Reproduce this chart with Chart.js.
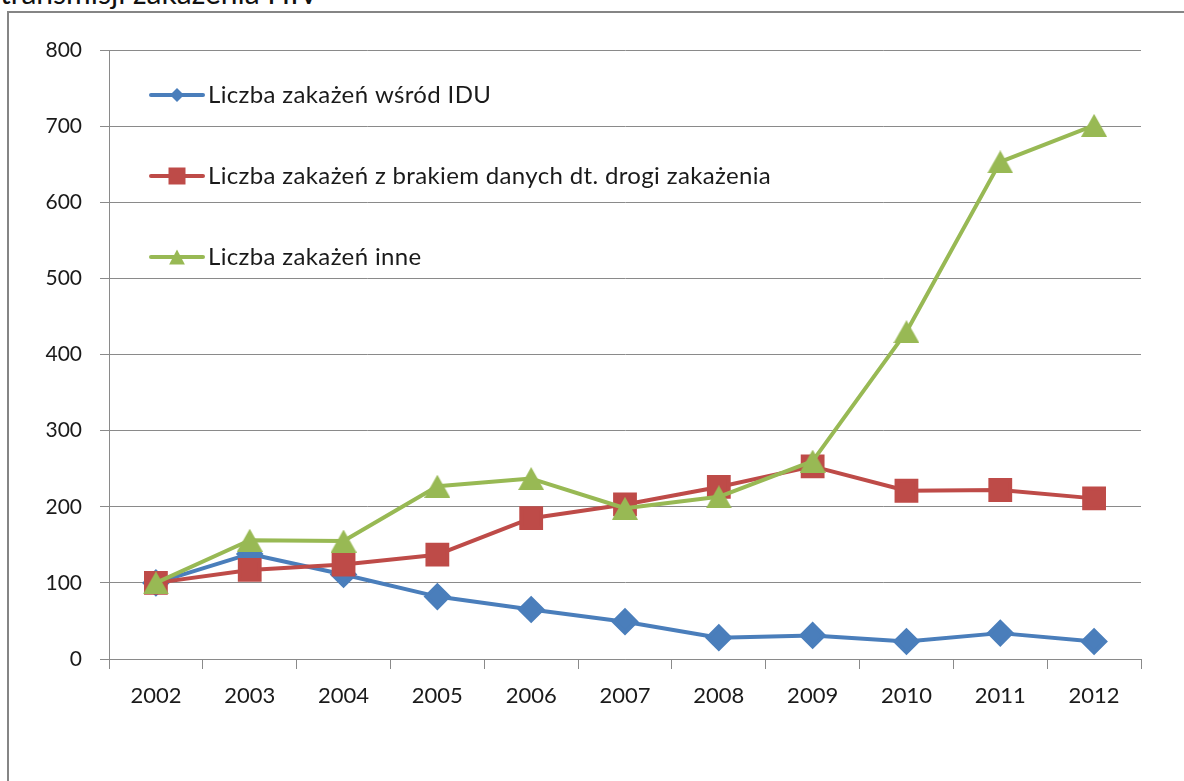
<!DOCTYPE html>
<html lang="pl">
<head>
<meta charset="utf-8">
<script src="https://cdn.jsdelivr.net/npm/chart.js@4/dist/chart.umd.min.js"></script>
<style>
  html, body { margin: 0; padding: 0; background: #fff; overflow: hidden; }
  body { width: 1184px; height: 781px; position: relative; font-family: Lato, "Open Sans", sans-serif; }
  #caption { position: absolute; left: 0; top: -23px; font-size: 30px; line-height: 30px; color: #111; white-space: nowrap; }
  #frame { position: absolute; left: 7px; top: 11px; width: 1300px; height: 900px;
           border-left: 2px solid #858585; border-top: 2px solid #858585; }
  #wrap { position: absolute; left: 0; top: 0; width: 1184px; height: 781px; }
</style>
</head>
<body>
<div id="caption">transmisji zakażenia HIV</div>
<div id="frame"></div>
<div id="wrap"><canvas id="chart" width="1184" height="781"></canvas></div>
<script>
// Years on the horizontal axis
const years = ['2002', '2003', '2004', '2005', '2006', '2007', '2008', '2009', '2010', '2011', '2012'];

// Series (index, 2002 = 100)
const seriesIdu = [100, 138, 111, 82, 65, 49, 28, 31, 23, 34, 23];
const seriesMissing = [100, 117, 124, 137, 185, 203, 226, 253, 221, 222, 211];
const seriesOther = [100, 156, 155, 227, 237, 198, 213, 260, 430, 653, 701];

const seriesLabels = [
  'Liczba zakażeń wśród IDU',
  'Liczba zakażeń z brakiem danych dt. drogi zakażenia',
  'Liczba zakażeń inne'
];

// Y axis range and step
const yMin = 0, yMax = 800, yStep = 100;

const BLUE = '#4A7EBB', RED = '#BE4B48', GREEN = '#98B954', GRID = '#8a8a8a';
const FONT = 'Lato, "Open Sans", sans-serif';

// Triangle marker whose bounding box is centred on the point
function triangleImage(w, h, color) {
  const c = document.createElement('canvas');
  c.width = w; c.height = h;
  const g = c.getContext('2d');
  g.fillStyle = color;
  g.beginPath();
  g.moveTo(w / 2, 0); g.lineTo(w, h); g.lineTo(0, h);
  g.closePath();
  g.fill();
  return c;
}

// Draws a marker shape centred at (x, y)
function drawMarker(ctx, style, x, y, r, color) {
  ctx.save();
  ctx.fillStyle = color;
  ctx.beginPath();
  if (style === 'rectRot') {
    ctx.moveTo(x, y - r); ctx.lineTo(x + r, y); ctx.lineTo(x, y + r); ctx.lineTo(x - r, y);
  } else if (style === 'rect') {
    ctx.rect(x - r, y - r, 2 * r, 2 * r);
  } else {
    ctx.moveTo(x, y - r); ctx.lineTo(x + r * 1.05, y + r); ctx.lineTo(x - r * 1.05, y + r);
  }
  ctx.closePath();
  ctx.fill();
  ctx.restore();
}

const legendShapes = ['rectRot', 'rect', 'triangle'];

// Legend stacked inside the plot area, one row per series
const insideLegend = {
  id: 'insideLegend',
  afterDraw(chart) {
    const ctx = chart.ctx;
    const rows = [95, 176, 257];
    const markerR = [7, 8.5, 7.5];
    chart.data.datasets.forEach((ds, i) => {
      const y = rows[i];
      ctx.save();
      ctx.strokeStyle = ds.borderColor;
      ctx.lineWidth = 4;
      ctx.lineCap = 'round';
      ctx.beginPath();
      ctx.moveTo(151, y); ctx.lineTo(203, y);
      ctx.stroke();
      drawMarker(ctx, legendShapes[i], 177, y, markerR[i], ds.borderColor);
      ctx.fillStyle = '#1a1a1a';
      ctx.font = '24px ' + FONT;
      ctx.letterSpacing = '0.35px';
      ctx.textBaseline = 'middle';
      ctx.textAlign = 'left';
      ctx.fillText(ds.label, 208, y);
      ctx.restore();
    });
  }
};

new Chart(document.getElementById('chart'), {
  type: 'line',
  data: {
    labels: years,
    datasets: [
      { label: seriesLabels[0], data: seriesIdu, borderColor: BLUE, backgroundColor: BLUE,
        pointStyle: 'rectRot', pointRadius: 11, borderWidth: 4, order: 3 },
      { label: seriesLabels[1], data: seriesMissing, borderColor: RED, backgroundColor: RED,
        pointStyle: 'rect', pointRadius: 14, borderWidth: 4, order: 2 },
      { label: seriesLabels[2], data: seriesOther, borderColor: GREEN, backgroundColor: GREEN,
        pointStyle: triangleImage(26, 23, GREEN), pointRadius: 12, borderWidth: 4, order: 1 }
    ]
  },
  options: {
    responsive: false,
    animation: false,
    events: [],
    layout: { padding: { left: 0, top: 50, right: 43, bottom: 62 } },
    elements: {
      line: { tension: 0, borderJoinStyle: 'round', borderCapStyle: 'round' },
      point: { borderWidth: 0, hoverRadius: 0 }
    },
    plugins: { legend: { display: false }, tooltip: { enabled: false } },
    scales: {
      x: {
        offset: true,
        grid: { offset: true, drawOnChartArea: false, drawTicks: true, tickLength: 10, color: GRID, lineWidth: 1 },
        border: { display: true, color: GRID, width: 1 },
        ticks: { color: '#1a1a1a', font: { family: FONT, size: 22 }, padding: 14, maxRotation: 0 },
        afterFit(s) { s.height = 60; }
      },
      y: {
        min: yMin, max: yMax,
        grid: { color: GRID, lineWidth: 1, tickLength: 9 },
        border: { display: true, color: GRID, width: 1 },
        ticks: { stepSize: yStep, color: '#1a1a1a', font: { family: FONT, size: 21 }, padding: 18 },
        afterFit(s) { s.width = 109; }
      }
    }
  },
  plugins: [insideLegend]
});
</script>
</body>
</html>
